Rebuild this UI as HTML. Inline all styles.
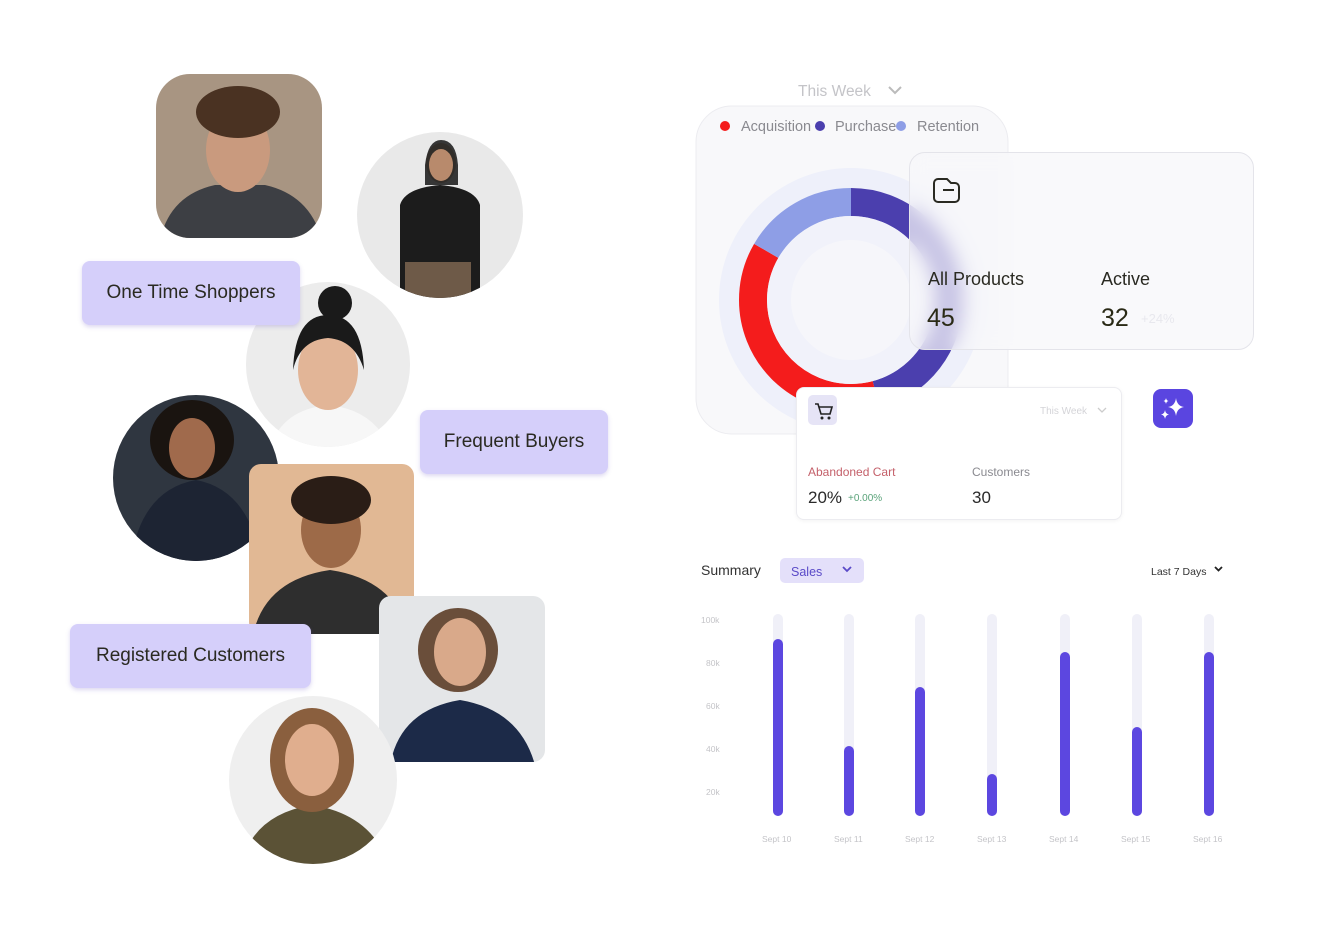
<!DOCTYPE html>
<html><head><meta charset="utf-8"><style>
body{margin:0;width:1324px;height:938px;background:#fff;overflow:hidden;font-family:"Liberation Sans",sans-serif;position:relative}
.a{position:absolute}
.lbl{position:absolute;background:#d5cffa;border-radius:8px;color:#2a2a22;font-size:19px;display:flex;align-items:center;justify-content:center;box-shadow:0 2px 4px rgba(120,100,200,.25)}
</style></head><body>
<svg class="a" style="left:0;top:0" width="1324" height="938">
<defs>
<clipPath id="c1"><rect x="156" y="74" width="166" height="164" rx="34"/></clipPath>
<clipPath id="c2"><circle cx="440" cy="215" r="83"/></clipPath>
<clipPath id="c3"><rect x="246" y="282" width="164" height="165" rx="82"/></clipPath>
<clipPath id="c4"><circle cx="196" cy="478" r="83"/></clipPath>
<clipPath id="c5"><rect x="249" y="464" width="165" height="170" rx="12"/></clipPath>
<clipPath id="c6"><rect x="379" y="596" width="166" height="166" rx="12"/></clipPath>
<clipPath id="c7"><circle cx="313" cy="780" r="84"/></clipPath>
</defs>
<!-- man 1 -->
<g clip-path="url(#c1)"><rect x="150" y="70" width="180" height="180" fill="#a89582"/>
<path d="M160 240 Q170 195 215 185 L265 185 Q310 195 322 240Z" fill="#3d3f44"/>
<ellipse cx="238" cy="150" rx="32" ry="42" fill="#c99a7e"/>
<ellipse cx="238" cy="112" rx="42" ry="26" fill="#4a3222"/></g>
<!-- woman 2 -->
<g clip-path="url(#c2)"><rect x="350" y="130" width="180" height="180" fill="#e9e9e9"/>
<path d="M400 300 L400 205 Q405 188 440 185 Q475 188 480 205 L480 300Z" fill="#1c1c1c"/>
<rect x="405" y="262" width="66" height="40" fill="#6e5a48"/>
<ellipse cx="441" cy="163" rx="15" ry="20" fill="#b88a6c"/>
<path d="M425 165 Q428 140 441 140 Q456 140 458 165 L458 185 L425 185Z" fill="#222" opacity=".9"/>
<ellipse cx="441" cy="165" rx="12" ry="16" fill="#b88a6c"/></g>
<!-- woman 3 -->
<g clip-path="url(#c3)"><rect x="240" y="280" width="180" height="170" fill="#ececec"/>
<path d="M270 450 Q280 410 328 405 Q376 410 390 450Z" fill="#f7f7f7"/>
<ellipse cx="328" cy="370" rx="30" ry="40" fill="#e2b597"/>
<path d="M293 370 Q295 315 328 315 Q362 315 364 370 Q355 340 328 338 Q300 340 293 370Z" fill="#1a1a1a"/>
<circle cx="335" cy="303" r="17" fill="#1a1a1a"/></g>
<!-- woman 4 -->
<g clip-path="url(#c4)"><rect x="110" y="390" width="180" height="180" fill="#2f3640"/>
<path d="M130 565 Q140 490 196 480 Q250 490 262 565Z" fill="#1d2433"/>
<ellipse cx="192" cy="440" rx="42" ry="40" fill="#1a1410"/>
<ellipse cx="192" cy="448" rx="23" ry="30" fill="#a06a4c"/></g>
<!-- man 5 -->
<g clip-path="url(#c5)"><rect x="245" y="460" width="175" height="180" fill="#e1b894"/>
<path d="M252 640 Q262 580 330 570 Q398 580 410 640Z" fill="#2e2e2e"/>
<ellipse cx="331" cy="530" rx="30" ry="38" fill="#9d6a48"/>
<ellipse cx="331" cy="500" rx="40" ry="24" fill="#2a1d16"/></g>
<!-- woman 6 -->
<g clip-path="url(#c6)"><rect x="375" y="590" width="175" height="175" fill="#e4e6e8"/>
<path d="M390 765 Q400 710 460 700 Q520 710 535 765Z" fill="#1c2a48"/>
<ellipse cx="458" cy="650" rx="40" ry="42" fill="#6a4e3a"/>
<ellipse cx="460" cy="652" rx="26" ry="34" fill="#d9a98a"/></g>
<!-- woman 7 -->
<g clip-path="url(#c7)"><rect x="225" y="690" width="180" height="180" fill="#efefef"/>
<path d="M240 870 Q250 815 312 805 Q375 815 390 870Z" fill="#5b5236"/>
<ellipse cx="312" cy="760" rx="42" ry="52" fill="#8a5f3e"/>
<ellipse cx="312" cy="760" rx="27" ry="36" fill="#e0ae8e"/></g>

<!-- donut card -->
<rect x="696" y="106" width="312" height="328" rx="36" fill="#f8f8fa" stroke="#ececf0"/>
<circle cx="851" cy="300" r="132" fill="#eef0fa"/>
<g transform="rotate(-90 851 300)" fill="none" stroke-width="28">
<circle cx="851" cy="300" r="98" stroke="#4b3fae" stroke-dasharray="282.2 615.75"/>
<circle cx="851" cy="300" r="98" stroke="#f41c1c" stroke-dasharray="230.9 615.75" stroke-dashoffset="-282.2"/>
<circle cx="851" cy="300" r="98" stroke="#8e9ee6" stroke-dasharray="102.6 615.75" stroke-dashoffset="-513.1"/>
</g>
<circle cx="851" cy="300" r="84" fill="#f1f2fa"/>
<circle cx="851" cy="300" r="60" fill="#f6f6fa"/>
<circle cx="725" cy="126" r="5" fill="#f41c1c"/>
<circle cx="820" cy="126" r="5" fill="#4b3fae"/>
<circle cx="901" cy="126" r="5" fill="#8e9ee6"/>
<text x="741" y="131" font-size="14.5" fill="#8a8a90">Acquisition</text>
<text x="835" y="131" font-size="14.5" fill="#8a8a90">Purchase</text>
<text x="917" y="131" font-size="14.5" fill="#8a8a90">Retention</text>
<text x="798" y="96" font-size="15.5" fill="#c4c4c8">This Week</text>
<path d="M889 87 l6 6 l6 -6" stroke="#bbb" stroke-width="2" fill="none"/>
</svg>

<div class="a" style="left:909px;top:152px;width:343px;height:196px;border-radius:16px;background:rgba(246,246,249,.72);backdrop-filter:blur(9px);-webkit-backdrop-filter:blur(9px);border:1.5px solid #e4e4ea"></div>
<svg class="a" style="left:909px;top:152px" width="345" height="200">
<path d="M29 27 h9 l4 4 h4 a4 4 0 0 1 4 4 v11 a4 4 0 0 1 -4 4 h-17 a4 4 0 0 1 -4 -4 v-15 a4 4 0 0 1 4 -4z" fill="none" stroke="#2a2a22" stroke-width="2"/>
<line x1="34" y1="38" x2="45" y2="38" stroke="#2a2a22" stroke-width="2"/>
<text x="19" y="133" font-size="18" fill="#2a2a22">All Products</text>
<text x="192" y="133" font-size="18" fill="#2a2a22">Active</text>
<text x="18" y="174" font-size="25" fill="#2a2a16">45</text>
<text x="192" y="174" font-size="25" fill="#2a2a16">32</text>
<text x="232" y="171" font-size="13" fill="#e8e8ee">+24%</text>
</svg>

<div class="a" style="left:796px;top:387px;width:324px;height:131px;border-radius:8px;background:#fff;border:1px solid #ececf0;box-shadow:0 1px 4px rgba(0,0,0,.05)"></div>
<svg class="a" style="left:796px;top:387px" width="326" height="133">
<rect x="12" y="8" width="29" height="30" rx="5" fill="#e6e4f6"/>
<path d="M19 17 h3 l3 10 h9 l2 -7 h-13" fill="none" stroke="#222" stroke-width="1.6"/>
<circle cx="26" cy="31" r="1.5" fill="#222"/><circle cx="33" cy="31" r="1.5" fill="#222"/>
<text x="244" y="27" font-size="10" fill="#d4d4d8">This Week</text>
<path d="M302 21 l4 4 l4 -4" stroke="#ccc" stroke-width="1.3" fill="none"/>
<text x="12" y="89" font-size="12" fill="#c4606a">Abandoned Cart</text>
<text x="176" y="89" font-size="12" fill="#8a8a90">Customers</text>
<text x="12" y="116" font-size="17" fill="#2a2a2a">20%</text>
<text x="52" y="114" font-size="10" fill="#5aa37a">+0.00%</text>
<text x="176" y="116" font-size="17" fill="#2a2a2a">30</text>
</svg>

<svg class="a" style="left:1152px;top:388px" width="44" height="42">
<rect x="1" y="1" width="40" height="39" rx="8" fill="#5a45e0"/>
<path d="M24 10 q1 8 8 9 q-7 1 -8 9 q-1 -8 -8 -9 q7 -1 8 -9z" fill="#fff"/>
<path d="M13 22 q.6 4 4 4.5 q-3.4 .5 -4 4.5 q-.6 -4 -4 -4.5 q3.4 -.5 4 -4.5z" fill="#fff"/>
<path d="M14 10 q.4 2.5 2.5 3 q-2.1 .5 -2.5 3 q-.4 -2.5 -2.5 -3 q2.1 -.5 2.5 -3z" fill="#fff"/>
</svg>

<svg class="a" style="left:690px;top:550px" width="560" height="310">
<text x="11" y="25" font-size="14" fill="#333">Summary</text>
<rect x="90" y="8" width="84" height="25" rx="5" fill="#e4e0fa"/>
<text x="101" y="26" font-size="12.5" fill="#5a4ac8">Sales</text>
<path d="M153 17 l4 4 l4 -4" stroke="#5a4ac8" stroke-width="1.8" fill="none"/>
<text x="461" y="25" font-size="10.5" fill="#333">Last 7 Days</text>
<path d="M525 17 l3.5 3.5 l3.5 -3.5" stroke="#222" stroke-width="1.8" fill="none"/>
<g font-size="8.5" fill="#c4c4c8">
<text x="11" y="73">100k</text><text x="16" y="116">80k</text><text x="16" y="159">60k</text><text x="16" y="202">40k</text><text x="16" y="245">20k</text>
<text x="72" y="292">Sept 10</text><text x="144" y="292">Sept 11</text><text x="215" y="292">Sept 12</text><text x="287" y="292">Sept 13</text><text x="359" y="292">Sept 14</text><text x="431" y="292">Sept 15</text><text x="503" y="292">Sept 16</text>
</g>
<g fill="#f0f0f8">
<rect x="83" y="64" width="10" height="202" rx="5"/><rect x="154" y="64" width="10" height="202" rx="5"/><rect x="225" y="64" width="10" height="202" rx="5"/><rect x="297" y="64" width="10" height="202" rx="5"/><rect x="370" y="64" width="10" height="202" rx="5"/><rect x="442" y="64" width="10" height="202" rx="5"/><rect x="514" y="64" width="10" height="202" rx="5"/>
</g>
<g fill="#5c47e0">
<rect x="83" y="89" width="10" height="177" rx="5"/><rect x="154" y="196" width="10" height="70" rx="5"/><rect x="225" y="137" width="10" height="129" rx="5"/><rect x="297" y="224" width="10" height="42" rx="5"/><rect x="370" y="102" width="10" height="164" rx="5"/><rect x="442" y="177" width="10" height="89" rx="5"/><rect x="514" y="102" width="10" height="164" rx="5"/>
</g>
</svg>

<div class="lbl" style="left:82px;top:261px;width:218px;height:64px">One Time Shoppers</div>
<div class="lbl" style="left:420px;top:410px;width:188px;height:64px">Frequent Buyers</div>
<div class="lbl" style="left:70px;top:624px;width:241px;height:64px">Registered Customers</div>
</body></html>
